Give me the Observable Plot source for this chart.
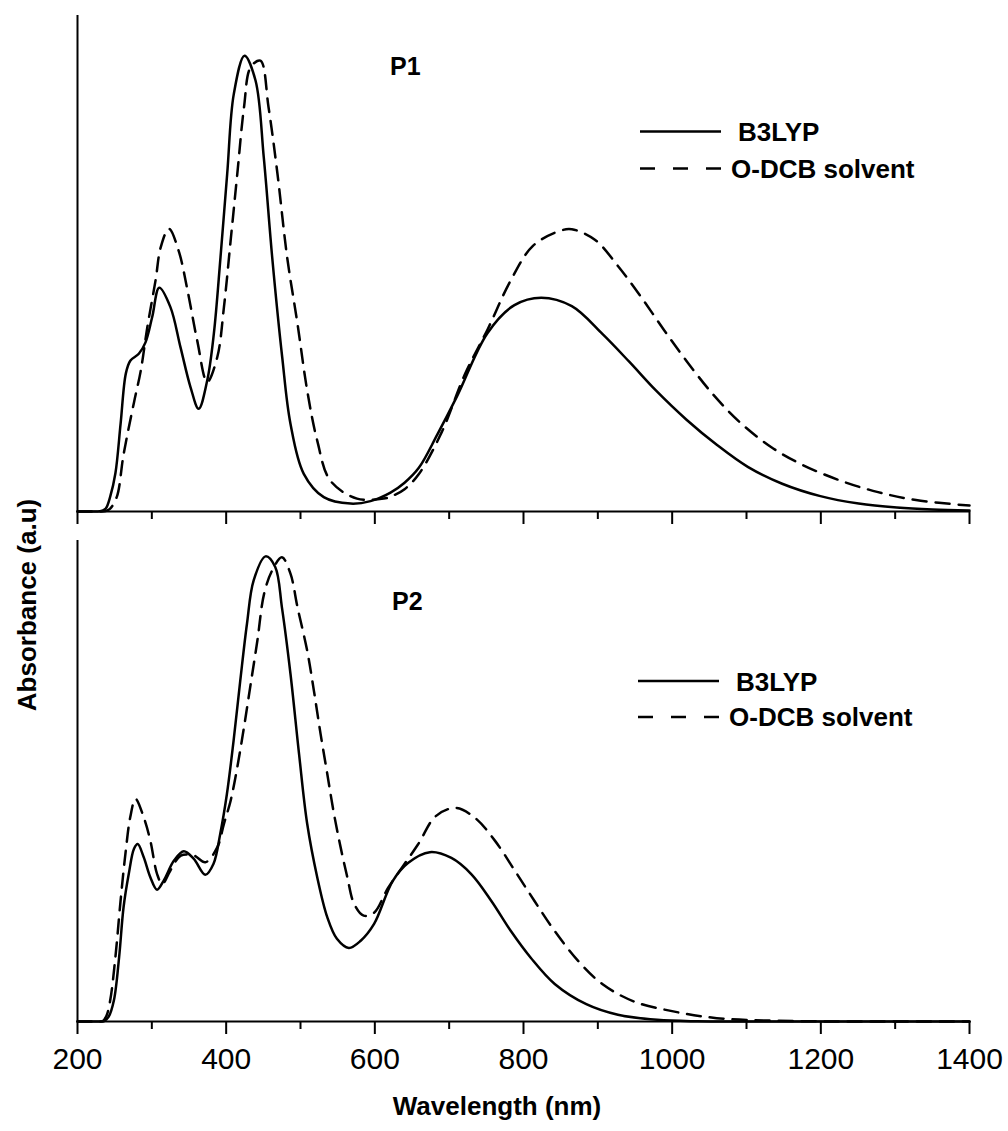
<!DOCTYPE html>
<html><head><meta charset="utf-8">
<script src="https://cdn.jsdelivr.net/npm/d3@7"></script>
<script src="https://cdn.jsdelivr.net/npm/@observablehq/plot@0.6"></script>
<style>
html,body{margin:0;padding:0;background:#fff;}
#wrap{position:relative;width:1008px;height:1131px;font-family:"Liberation Sans",Arial,sans-serif;}
#wrap > svg{display:block;}
#overlay{position:absolute;left:0;top:0;pointer-events:none;}
</style></head><body><div id="wrap"></div>
<script>
// ---- P1 (top panel) ----
const p1SolidNm  = [200,215,226,232,238,244,251,258,265,271,282.5,291.5,300.5,310,325,338.6,352,363,374.5,383.4,392.4,401.4,410.3,424.7,439.5,450.6,461.9,475.4,486.5,504.4,531.3,567.3,594.2,621.1,640,659.2,684,710.5,751.7,787.8,823.8,865,906.1,942.2,978.1,1019.3,1060.4,1101.7,1148,1199.4,1250.9,1302.3,1350,1400];
const p1SolidAbs = [0,0,0,0.001,0.006,0.03,0.077,0.177,0.278,0.304,0.318,0.341,0.392,0.451,0.412,0.331,0.251,0.207,0.264,0.358,0.513,0.681,0.842,0.919,0.869,0.714,0.513,0.311,0.177,0.076,0.029,0.016,0.021,0.038,0.058,0.088,0.155,0.232,0.360,0.416,0.431,0.414,0.358,0.302,0.244,0.185,0.134,0.090,0.056,0.031,0.016,0.008,0.004,0.002];
const p1DashNm   = [200,220,232,238,244,253,262,276,285,294,305,312,323,336,348,361,374.5,388,397,406,415,424,433,446,457,469,482,496,509,522.5,540,576,612,623,640,659,690,721,752,782.5,813,849.5,865,896,927,957.5,988.5,1019,1055,1091,1133,1174,1225,1277,1328,1400];
const p1DashAbs  = [0,0,0,0.001,0.006,0.03,0.115,0.22,0.283,0.372,0.466,0.533,0.570,0.526,0.446,0.345,0.261,0.311,0.412,0.546,0.681,0.815,0.896,0.909,0.815,0.681,0.513,0.378,0.244,0.143,0.0625,0.026,0.026,0.031,0.045,0.075,0.160,0.276,0.368,0.465,0.536,0.566,0.569,0.548,0.495,0.434,0.367,0.304,0.236,0.180,0.130,0.095,0.063,0.039,0.023,0.012];
// ---- P2 (bottom panel) ----
const p2SolidNm  = [200,218,230,236,242,249,256,262,269,276,281,289,298,307,316,330,343,356.5,372,383,392,401,410,419,428,437,453,466,475,486.5,498,509,522.5,536,549,565,581,599,624,645,674,703,730,757,783,810,842,884.5,927,980,1034,1100,1400];
const p2SolidAbs = [0,0,0,0.001,0.01,0.044,0.134,0.238,0.307,0.359,0.369,0.342,0.300,0.274,0.293,0.335,0.354,0.338,0.305,0.328,0.390,0.473,0.584,0.709,0.827,0.917,0.967,0.945,0.861,0.723,0.557,0.411,0.300,0.217,0.172,0.153,0.168,0.203,0.292,0.330,0.352,0.340,0.306,0.250,0.188,0.132,0.078,0.036,0.014,0.0035,0.0005,0,0];
const p2DashNm   = [200,216,228,234,239,244,251,258,265,271,278,289,298,307,314,325,339,356.5,372,388,397,406,415,424,433,442,451,462,475,486.5,496,509,518,527,536,545,554,563,572,585,599,618,658,682,709,735,762,789,815,842,874,906,948,1001.5,1060,1140,1250,1400];
const p2DashAbs  = [0,0,0,0.001,0.012,0.044,0.134,0.252,0.356,0.425,0.463,0.425,0.376,0.307,0.286,0.314,0.345,0.345,0.331,0.362,0.411,0.459,0.529,0.612,0.702,0.792,0.889,0.938,0.965,0.931,0.861,0.771,0.688,0.598,0.515,0.432,0.362,0.300,0.245,0.220,0.226,0.278,0.368,0.427,0.444,0.423,0.375,0.312,0.250,0.188,0.125,0.078,0.042,0.021,0.007,0.0015,0,0];
// ---- axis ticks & labels ----
const majorTicks = [200,400,600,800,1000,1200,1400];
const minorTicks = [300,500,700,900,1100,1300];
const xDomain = [200,1400];
const yDomain = [0,1];
const panelNames = ["P1","P2"];
const seriesNames = ["B3LYP","O-DCB solvent"];
const xTitle = "Wavelength (nm)";
const yTitle = "Absorbance (a.u)";

const FONT = '"Liberation Sans", Arial, sans-serif';
function rows(nm, abs){ return nm.map((x,i)=>({nm:x, abs:abs[i]})); }

function panel({solid, dashed, height, marginTop, marginBottom, labels}) {
  return Plot.plot({
    width: 1008, height, marginTop, marginBottom, marginLeft: 77, marginRight: 39,
    x: {domain: xDomain, label: null},
    y: {domain: yDomain, axis: null},
    style: {fontFamily: FONT, color: "#000", background: "#fff", overflow: "visible"},
    marks: [
      Plot.axisX({ticks: minorTicks, tickSize: 8, strokeWidth: 2, tickFormat: () => "", label: null}),
      Plot.axisX({ticks: majorTicks, tickSize: 13, tickPadding: 13, strokeWidth: 2,
        tickFormat: labels ? (d => String(d)) : (() => ""), fontSize: 30, label: null}),
      Plot.ruleY([0], {strokeWidth: 2}),
      Plot.ruleX([200], {strokeWidth: 2}),
      Plot.line(solid, {x: "nm", y: "abs", curve: "catmull-rom", strokeWidth: 2.5}),
      Plot.line(dashed, {x: "nm", y: "abs", curve: "catmull-rom", strokeWidth: 2.5, strokeDasharray: "14,9"})
    ]
  });
}

const wrap = document.getElementById("wrap");
wrap.appendChild(panel({solid: rows(p1SolidNm,p1SolidAbs), dashed: rows(p1DashNm,p1DashAbs), height: 530, marginTop: 15, marginBottom: 19, labels: false}));
wrap.appendChild(panel({solid: rows(p2SolidNm,p2SolidAbs), dashed: rows(p2DashNm,p2DashAbs), height: 601, marginTop: 10, marginBottom: 110, labels: true}));

// overlay: panel names, legends, axis titles
const ov = d3.select(wrap).append("svg").attr("id","overlay").attr("width",1008).attr("height",1131)
  .attr("font-family", FONT).attr("font-weight","bold").attr("fill","#000");
function legend(lineY1, lineY2, textY1, textY2, x1, x2, tx1, tx2){
  ov.append("line").attr("x1",x1).attr("x2",x2).attr("y1",lineY1).attr("y2",lineY1).attr("stroke","#000").attr("stroke-width",2.5);
  ov.append("line").attr("x1",x1).attr("x2",x2).attr("y1",lineY2).attr("y2",lineY2).attr("stroke","#000").attr("stroke-width",2.5).attr("stroke-dasharray","15,18");
  ov.append("text").attr("x",tx1).attr("y",textY1).attr("font-size",26).text(seriesNames[0]);
  ov.append("text").attr("x",tx2).attr("y",textY2).attr("font-size",26).text(seriesNames[1]);
}
ov.append("text").attr("x",390).attr("y",75).attr("font-size",25).text(panelNames[0]);
ov.append("text").attr("x",392).attr("y",610).attr("font-size",25).text(panelNames[1]);
legend(131.5, 168.5, 141, 177.5, 640, 721, 738, 731);
legend(681, 717, 690.5, 726, 638, 719, 736, 729);
ov.append("text").attr("x",497).attr("y",1115).attr("font-size",26).attr("text-anchor","middle").text(xTitle);
ov.append("text").attr("transform","translate(36,605) rotate(-90)").attr("font-size",26).attr("text-anchor","middle").text(yTitle);
</script></body></html>
